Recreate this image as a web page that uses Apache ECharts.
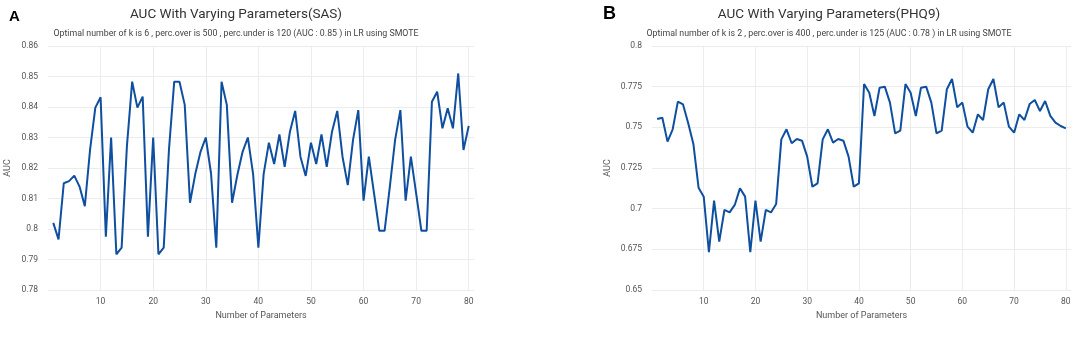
<!DOCTYPE html>
<html>
<head>
<meta charset="utf-8">
<script src="https://cdn.jsdelivr.net/npm/echarts@6/dist/echarts.min.js"></script>
<style>
  html, body { margin: 0; padding: 0; background: #fff; }
  #main { width: 1084px; height: 337px; }
</style>
</head>
<body>
<div id="main"></div>
<script>
// number of parameters 1..80
const params = [];
for (let i = 1; i <= 80; i++) params.push(i);

// AUC (SAS)
const aucSAS = [
  0.802, 0.7966, 0.815, 0.8157, 0.8175, 0.8139, 0.8075, 0.826, 0.8398, 0.8432,
  0.7975, 0.830, 0.7917, 0.7939, 0.827, 0.8483, 0.8398, 0.8434, 0.7975, 0.830,
  0.7917, 0.7939, 0.826, 0.8483, 0.8483, 0.8407, 0.8086, 0.818, 0.8253, 0.830,
  0.8182, 0.7939, 0.8483, 0.8407, 0.8086, 0.8177, 0.8253, 0.830, 0.818, 0.7939,
  0.818, 0.8283, 0.8213, 0.831, 0.8204, 0.8319, 0.8387, 0.8237, 0.8174, 0.8283,
  0.8213, 0.831, 0.8204, 0.8319, 0.8387, 0.8237, 0.8144, 0.8292, 0.839, 0.8093,
  0.8237, 0.8116, 0.7994, 0.7994, 0.8139, 0.8292, 0.839, 0.8093, 0.8237, 0.8117,
  0.7994, 0.7994, 0.8417, 0.845, 0.833, 0.8396, 0.833, 0.851, 0.8259, 0.8338
];

// AUC (PHQ9)
const aucPHQ9 = [
  0.7551, 0.7559, 0.7412, 0.7488, 0.7658, 0.7641, 0.7525, 0.7398, 0.7129, 0.7074,
  0.6732, 0.7049, 0.6797, 0.6992, 0.6977, 0.7023, 0.7125, 0.7074, 0.6732, 0.7049,
  0.6797, 0.6992, 0.6977, 0.7029, 0.7426, 0.7488, 0.7402, 0.7428, 0.7418, 0.732,
  0.7135, 0.7156, 0.7426, 0.7488, 0.7406, 0.7428, 0.7418, 0.732, 0.7135, 0.7156,
  0.7766, 0.7713, 0.757, 0.7744, 0.775, 0.7652, 0.7463, 0.748, 0.7766, 0.7713,
  0.757, 0.7744, 0.775, 0.7652, 0.7463, 0.748, 0.7734, 0.7797, 0.7623, 0.7652,
  0.7504, 0.7467, 0.758, 0.7545, 0.7734, 0.7797, 0.7623, 0.7652, 0.7504, 0.7467,
  0.758, 0.7545, 0.7643, 0.7668, 0.76, 0.7662, 0.757, 0.7529, 0.7508, 0.7494
];

const titles = ['AUC With Varying Parameters(SAS)', 'AUC With Varying Parameters(PHQ9)'];
const subtitles = [
  'Optimal number of k is 6 , perc.over is 500 , perc.under is 120 (AUC : 0.85 ) in LR using SMOTE',
  'Optimal number of k is 2 , perc.over is 400 , perc.under is 125 (AUC : 0.78 ) in LR using SMOTE'
];
const panelLetters = ['A', 'B'];

const lineColor = '#0f4fa0';
const textColor = '#555';
const gridColor = '#ececec';
const fontFamily = 'Roboto, "Liberation Sans", sans-serif';
const letterFont = 'Arial, "Liberation Sans", sans-serif';

const xAxisFor = (gridIndex) => ({
  type: 'value',
  gridIndex: gridIndex,
  min: 0,
  max: 81,
  interval: 10,
  name: 'Number of Parameters',
  nameLocation: 'middle',
  nameGap: 21,
  nameTextStyle: { color: textColor, fontSize: 9, fontFamily: fontFamily },
  axisLine: { show: false },
  axisTick: { show: false },
  axisLabel: {
    color: textColor, fontSize: 8.5, fontFamily: fontFamily, margin: 7,
    formatter: (v) => (v > 0 && v % 10 === 0 ? String(v) : '')
  },
  splitLine: { show: true, showMinLine: false, showMaxLine: false, lineStyle: { color: gridColor, width: 1 } }
});

const yAxisFor = (gridIndex, min, max, interval, nameGap) => ({
  type: 'value',
  gridIndex: gridIndex,
  min: min,
  max: max,
  interval: interval,
  name: 'AUC',
  nameLocation: 'middle',
  nameRotate: 90,
  nameGap: nameGap,
  nameTextStyle: { color: textColor, fontSize: 9, fontFamily: fontFamily },
  axisLine: { show: false },
  axisTick: { show: false },
  axisLabel: {
    color: textColor, fontSize: 8.5, fontFamily: fontFamily, margin: 10,
    formatter: (v) => String(parseFloat(v.toFixed(3)))
  },
  splitLine: { show: true, lineStyle: { color: gridColor, width: 1 } }
});

const option = {
  backgroundColor: '#fff',
  animation: false,
  title: [
    { text: panelLetters[0], left: 4, top: 4, textStyle: { fontSize: 15, fontWeight: 'bold', color: '#000', fontFamily: letterFont } },
    { text: panelLetters[1], left: 598, top: 0, textStyle: { fontSize: 18, fontWeight: 'bold', color: '#000', fontFamily: letterFont } },
    {
      text: titles[0], subtext: subtitles[0], left: 231, top: 3, textAlign: 'center', itemGap: 7,
      textStyle: { fontSize: 13.5, fontWeight: 'normal', color: '#333', fontFamily: fontFamily },
      subtextStyle: { fontSize: 8.8, color: '#444', fontFamily: fontFamily }
    },
    {
      text: titles[1], subtext: subtitles[1], left: 824, top: 3, textAlign: 'center', itemGap: 7,
      textStyle: { fontSize: 13.5, fontWeight: 'normal', color: '#333', fontFamily: fontFamily },
      subtextStyle: { fontSize: 8.8, color: '#444', fontFamily: fontFamily }
    }
  ],
  grid: [
    { left: 48, top: 46, width: 426, height: 244 },
    { left: 652, top: 46, width: 419, height: 244 }
  ],
  xAxis: [xAxisFor(0), xAxisFor(1)],
  yAxis: [
    yAxisFor(0, 0.78, 0.86, 0.01, 36),
    yAxisFor(1, 0.65, 0.8, 0.025, 40)
  ],
  series: [
    {
      name: 'SAS',
      type: 'line',
      xAxisIndex: 0,
      yAxisIndex: 0,
      showSymbol: false,
      lineStyle: { color: lineColor, width: 2 },
      data: params.map((p, i) => [p, aucSAS[i]])
    },
    {
      name: 'PHQ9',
      type: 'line',
      xAxisIndex: 1,
      yAxisIndex: 1,
      showSymbol: false,
      lineStyle: { color: lineColor, width: 2 },
      data: params.map((p, i) => [p, aucPHQ9[i]])
    }
  ]
};

const dom = document.getElementById('main');
const myChart = echarts.init(dom);
myChart.setOption(option);
window.addEventListener('resize', () => {
  myChart.resize();
});
</script>
</body>
</html>
